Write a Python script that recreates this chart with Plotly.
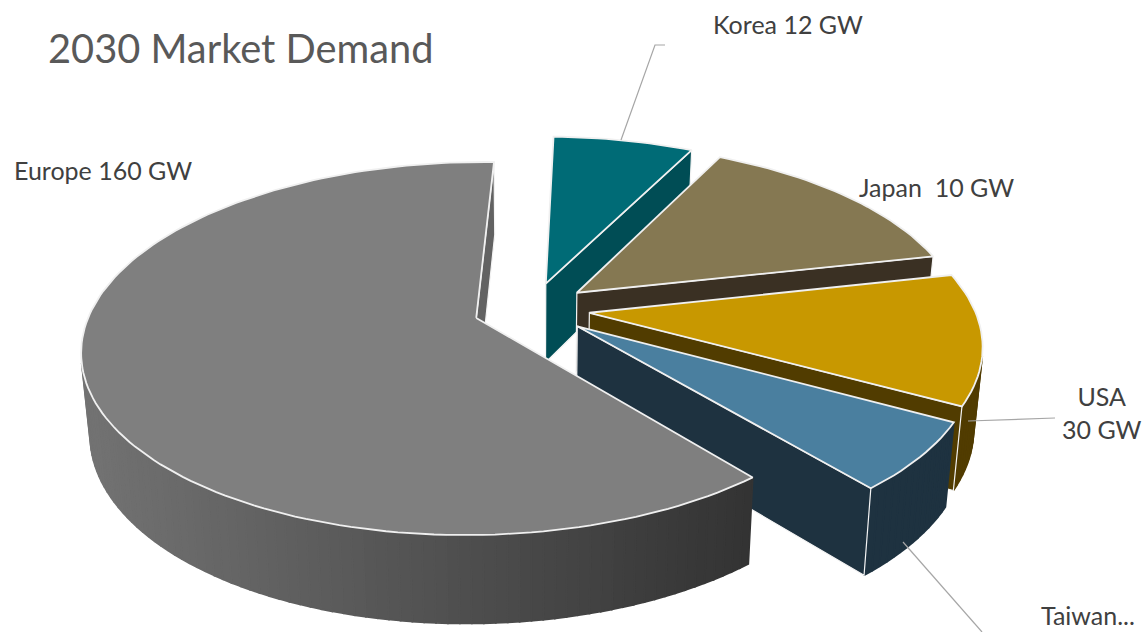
import math
import plotly.graph_objects as go

# --- data ---
regions = ["Korea", "Japan", "USA", "Taiwan", "Europe"]
values = [18, 36.7, 29.8, 15.5, 160]          # slice sizes as drawn
label_texts = ["Korea 12 GW", "Japan  10 GW", "USA<br>30 GW", "Taiwan...", "Europe 160 GW"]
pulls = [0.15, 0.15, 0.15, 0.15, 0.152]
title_text = "2030 Market Demand"

# --- styles ---
top_colors = ["#006b76", "#857852", "#c89800", "#4a7f9f", "#7f7f7f"]
side_left = ["#004d55", "#3a3023", "#513c00", "#1e3240", "#727272"]
side_right = ["#004d55", "#3a3023", "#513c00", "#1e3240", "#333333"]
start_angle = 1.7

# --- projection of the tilted pie ---
CX, CY, F, G, K = 532.0, 309.0, 385.0, 178.6, 0.1627


def project(x, y, z=0.0):
    s = 1.0 / (1.0 + K * y)
    sx = CX + F * x * s * (1 - 0.02 * z)
    sy = CY - G * y * s + z * (80 - 8 * y)
    return sx, sy


def hexrgb(c):
    return [int(c[i:i + 2], 16) for i in (1, 3, 5)]


def mix(a, b, t):
    t = max(0.0, min(1.0, t))
    ca, cb = hexrgb(a), hexrgb(b)
    return "rgb(%d,%d,%d)" % tuple(round(p + (q - p) * t) for p, q in zip(ca, cb))


def area(pts):
    return sum(pts[i][0] * pts[(i + 1) % len(pts)][1] - pts[(i + 1) % len(pts)][0] * pts[i][1]
               for i in range(len(pts)))


fig = go.Figure()


def poly(pts, fill, line, width):
    xs = [p[0] for p in pts] + [pts[0][0]]
    ys = [p[1] for p in pts] + [pts[0][1]]
    fig.add_trace(go.Scatter(x=xs, y=ys, mode="lines", fill="toself", fillcolor=fill,
                             line=dict(color=line, width=width), hoverinfo="skip", showlegend=False))


total = sum(values)
angle = start_angle
spans = []
for v in values:
    spans.append((angle, angle + v / total * 360.0))
    angle = spans[-1][1]

for i, (a0, a1) in enumerate(spans):
    mid = math.radians((a0 + a1) / 2)
    ox, oy = pulls[i] * math.sin(mid), pulls[i] * math.cos(mid)
    n = max(8, int((a1 - a0) / 1.5))
    th = [math.radians(a0 + (a1 - a0) * j / n) for j in range(n + 1)]
    rim = [(ox + math.sin(t), oy + math.cos(t)) for t in th]
    apex = (ox, oy)

    # outer wall
    for j in range(n):
        p, q = rim[j], rim[j + 1]
        quad = [project(*p), project(*q), project(*q, 1), project(*p, 1)]
        if area(quad) < 0:
            c = mix(side_left[i], side_right[i], ((quad[0][0] + quad[1][0]) / 2 - 90) / 660)
            poly(quad, c, c, 1.8)

    # flat cut faces
    for p, q in ((apex, rim[0]), (rim[-1], apex)):
        quad = [project(*p), project(*q), project(*q, 1), project(*p, 1)]
        if area(quad) < 0:
            poly(quad, mix(side_left[i], side_right[i], 0.0 if i < 4 else 0.25), "#f4f4f4", 1.2)

    # top face
    poly([project(*apex)] + [project(*r) for r in rim], top_colors[i], "#f0f0f0", 1.8)

# leader lines
LEADERS = [
    [(621, 140), (655, 45), (665, 45)],
    [(968, 421), (1055, 418)],
    [(903, 542), (982, 632)],
]
for seg in LEADERS:
    fig.add_trace(go.Scatter(x=[p[0] for p in seg], y=[p[1] for p in seg], mode="lines",
                             line=dict(color="#a6a6a6", width=1.2), hoverinfo="skip", showlegend=False))

LABEL_POS = [(788, 24), (936, 187), (1102, 412), (1088, 615), (103, 170)]
for text, (x, y) in zip(label_texts, LABEL_POS):
    fig.add_annotation(x=x, y=y, text=text, showarrow=False, xanchor="center", yanchor="middle",
                       font=dict(family="Lato, 'Open Sans', sans-serif", size=25, color="#404040"))
fig.add_annotation(x=46, y=47, text=title_text, showarrow=False, xanchor="left", yanchor="middle",
                   font=dict(family="Lato, 'Open Sans', sans-serif", size=39.8, color="#595959"))

fig.update_layout(
    width=1142, height=632, margin=dict(l=0, r=0, t=0, b=0),
    paper_bgcolor="#ffffff", plot_bgcolor="#ffffff", showlegend=False,
    xaxis=dict(range=[0, 1142], visible=False, fixedrange=True),
    yaxis=dict(range=[632, 0], visible=False, fixedrange=True),
)
fig.write_html("out.html", config={"displayModeBar": False},
               post_script="document.body.style.margin='0';document.documentElement.style.overflow='hidden';")
